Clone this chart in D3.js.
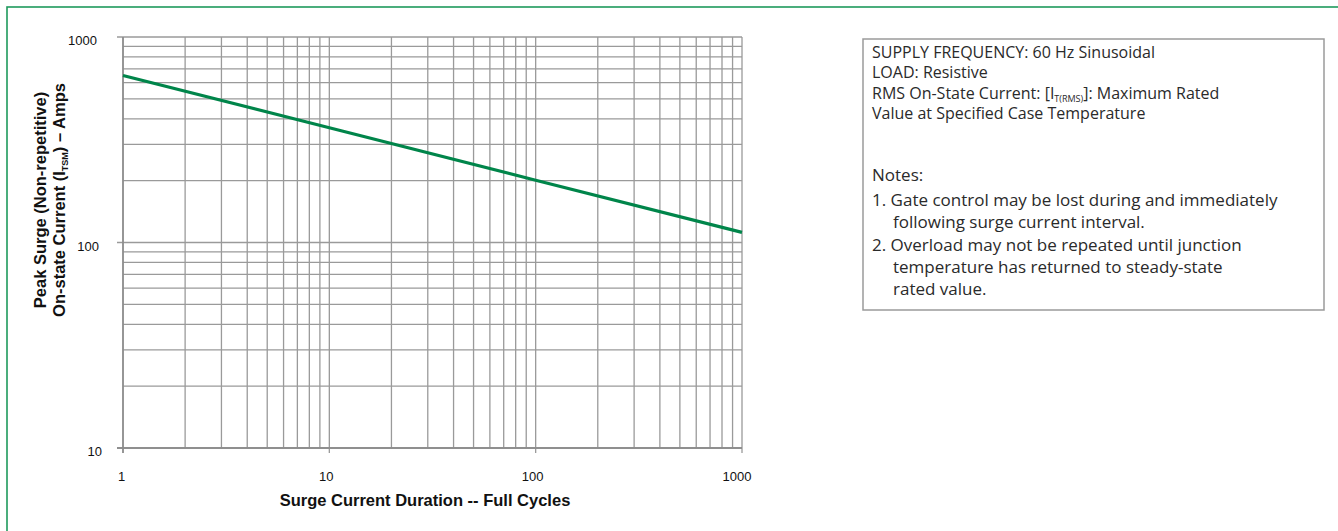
<!DOCTYPE html>
<html><head><meta charset="utf-8">
<script src="https://cdn.jsdelivr.net/npm/d3@7"></script>
<style>body{margin:0;background:#fff}svg{display:block}text{font-family:"Liberation Sans",Arial,sans-serif}</style>
</head><body><svg id="c" width="1338" height="531"></svg>
<script>
const durationCycles = [1, 10, 100, 1000];
const surgeAmps = [650, 362, 201, 112];
const xTickLabels = [1, 10, 100, 1000];
const yTickLabels = [10, 100, 1000];
const infoLines = ["SUPPLY FREQUENCY: 60 Hz Sinusoidal", "LOAD: Resistive"];
const noteLines = ["1. Gate control may be lost during and immediately", "   following surge current interval.", "2. Overload may not be repeated until junction", "   temperature has returned to steady-state", "   rated value."];

const svg = d3.select("#c");
svg.append("rect").attr("x",7).attr("y",7).attr("width",1400).attr("height",600)
  .attr("fill","none").attr("stroke","#1f9a5c").attr("stroke-width",1.6);

const x = d3.scaleLog().domain([1,1000]).range([123,742]);
const y = d3.scaleLog().domain([10,1000]).range([448,37]);

const minorX = [], minorY = [];
for (let k of [1,10,100]) for (let m=1;m<10;m++) minorX.push(k*m);
minorX.push(1000);
for (let k of [10,100]) for (let m=1;m<10;m++) minorY.push(k*m);
minorY.push(1000);

const g = svg.append("g");
g.selectAll("line.vx").data(minorX).join("line")
  .attr("x1",d=>x(d)).attr("x2",d=>x(d)).attr("y1",y(1000)).attr("y2",d=>xTickLabels.includes(d)?y(10)+5:y(10))
  .attr("stroke","#9a9a9a").attr("stroke-width",1.3);
g.selectAll("line.hy").data(minorY.concat([10])).join("line")
  .attr("y1",d=>y(d)).attr("y2",d=>y(d)).attr("x1",d=>yTickLabels.includes(d)?x(1)-6:x(1)).attr("x2",x(1000))
  .attr("stroke","#9a9a9a").attr("stroke-width",1.3);
g.append("line").attr("x1",x(1)).attr("x2",x(1)).attr("y1",y(1000)).attr("y2",y(10)+5).attr("stroke","#8a8a8a").attr("stroke-width",1.5);
g.append("line").attr("x1",x(1)-6).attr("x2",x(1000)).attr("y1",y(10)).attr("y2",y(10)).attr("stroke","#8a8a8a").attr("stroke-width",1.5);

g.selectAll("text.xl").data(xTickLabels).join("text")
  .attr("x",d=>x(d)-(d===1000?5:d===1?1.5:3)).attr("y",481).attr("text-anchor","middle").attr("font-size",13).attr("fill","#111").text(d=>d);
g.selectAll("text.yl").data(yTickLabels).join("text")
  .attr("x",d=>d===1000?97:d===100?99:102).attr("y",d=>y(d)+8).attr("text-anchor","end").attr("font-size",13).attr("fill","#111").text(d=>d);

const line = d3.line().x((d,i)=>x(durationCycles[i])).y(d=>y(d));
g.append("path").attr("d",line(surgeAmps)).attr("fill","none").attr("stroke","#00854a").attr("stroke-width",3.2);

svg.append("text").attr("x",425).attr("y",506).attr("text-anchor","middle").attr("font-size",16.5).attr("font-weight","bold").attr("fill","#111")
  .text("Surge Current Duration -- Full Cycles");
const yt = svg.append("g").attr("transform","translate(0,200) rotate(-90)");
yt.append("text").attr("x",0).attr("y",46).attr("text-anchor","middle").attr("font-size",16.5).attr("font-weight","bold").attr("fill","#111")
  .text("Peak Surge (Non-repetitive)");
const t2 = yt.append("text").attr("x",0).attr("y",65).attr("text-anchor","middle").attr("font-size",16.5).attr("font-weight","bold").attr("fill","#111");
t2.append("tspan").text("On-state Current (I");
t2.append("tspan").attr("font-size",9).attr("dy",3).text("TSM");
t2.append("tspan").attr("dy",-3).text(") – Amps");

svg.append("rect").attr("x",863).attr("y",39).attr("width",461).attr("height",271).attr("fill","#fff").attr("stroke","#9a9a9a").attr("stroke-width",1.5);
const tb = svg.append("g").style("font-family","'Open Sans',sans-serif").attr("fill","#2a2a2a");
tb.selectAll("text.i").data(infoLines).join("text").attr("x",872).attr("y",(d,i)=>58+i*20.3).attr("font-size",16).style("font-family","'Open Sans',sans-serif").attr("fill","#2a2a2a").text(d=>d);
const r = tb.append("text").attr("x",872).attr("y",98.6).attr("font-size",16).style("font-family","'Open Sans',sans-serif").attr("fill","#2a2a2a");
r.append("tspan").text("RMS On-State Current: [I");
r.append("tspan").attr("font-size",9).attr("dy",3).text("T(RMS)");
r.append("tspan").attr("dy",-3).text("]: Maximum Rated");
tb.append("text").attr("x",872).attr("y",119).attr("font-size",16).style("font-family","'Open Sans',sans-serif").attr("fill","#2a2a2a").text("Value at Specified Case Temperature");
tb.append("text").attr("x",872).attr("y",181).attr("font-size",17).style("font-family","'Open Sans',sans-serif").attr("fill","#2a2a2a").text("Notes:");
tb.selectAll("text.n").data(noteLines).join("text").attr("x",d=>d.startsWith("   ")?893:872).attr("y",(d,i)=>206+i*22.3)
  .attr("font-size",17).style("font-family","'Open Sans',sans-serif").attr("fill","#2a2a2a").text(d=>d.trim());
</script></body></html>
